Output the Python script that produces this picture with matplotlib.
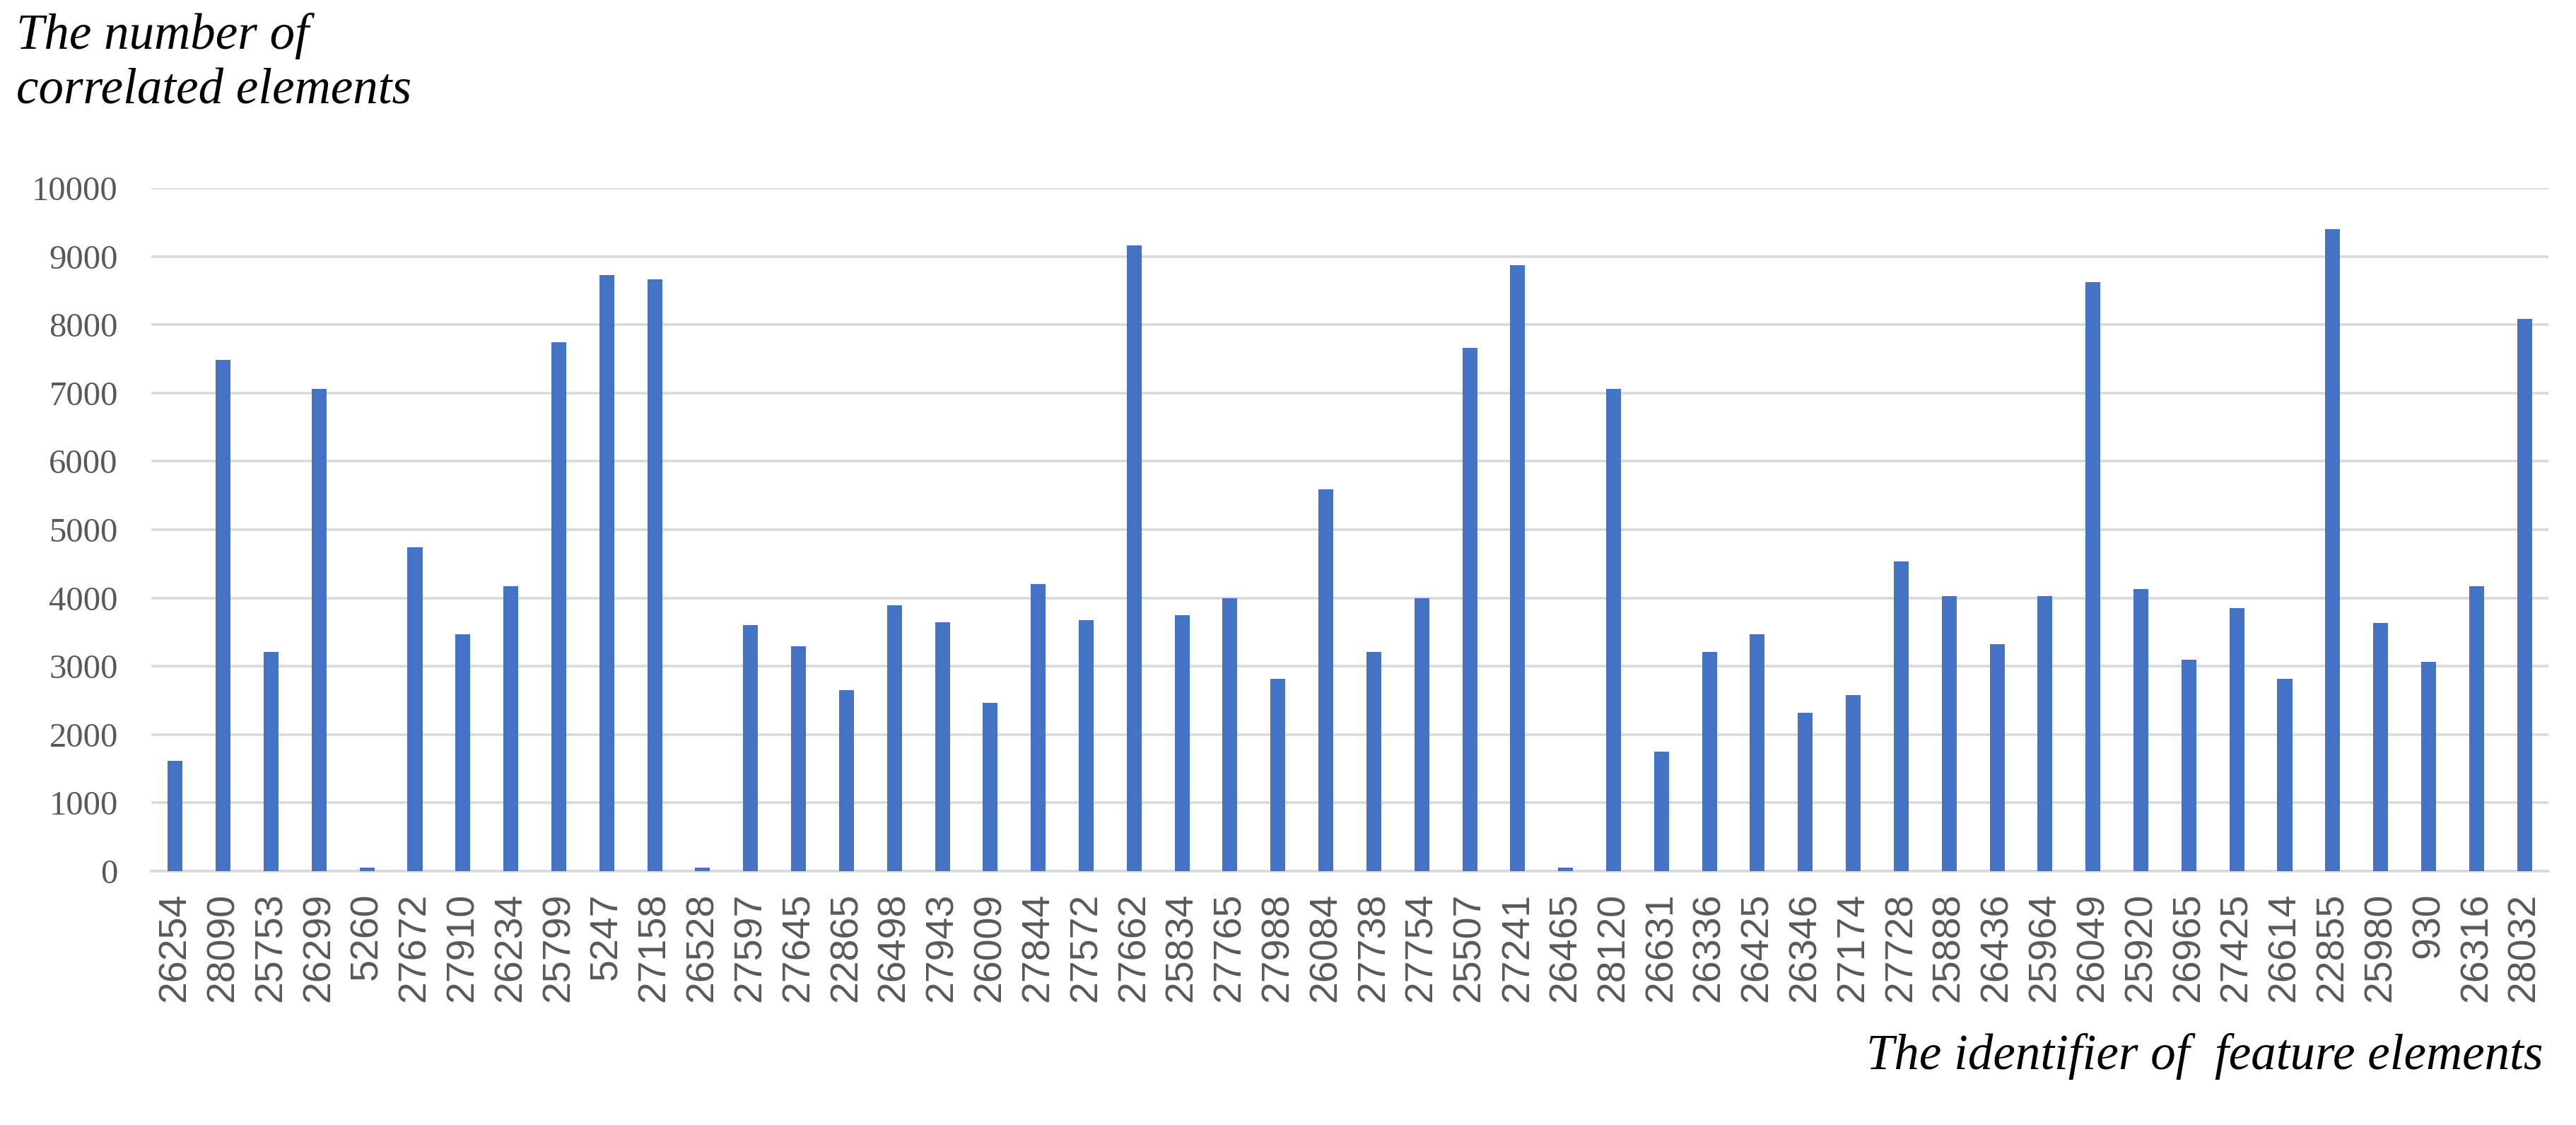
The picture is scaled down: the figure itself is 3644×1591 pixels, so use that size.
import matplotlib
import numpy as np

matplotlib.use("Agg")
import matplotlib.pyplot as plt


IDENTIFIERS = [
    "26254", "28090", "25753", "26299", "5260", "27672", "27910", "26234", "25799", "5247",
    "27158", "26528", "27597", "27645", "22865", "26498", "27943", "26009", "27844", "27572",
    "27662", "25834", "27765", "27988", "26084", "27738", "27754", "25507", "27241", "26465",
    "28120", "26631", "26336", "26425", "26346", "27174", "27728", "25888", "26436", "25964",
    "26049", "25920", "26965", "27425", "26614", "22855", "25980", "930", "26316", "28032",
]

CORRELATED_COUNTS = [
    1620, 7480, 3210, 7060, 50, 4740, 3470, 4170, 7740, 8730,
    8660, 50, 3600, 3290, 2645, 3890, 3640, 2460, 4200, 3675,
    9160, 3745, 4000, 2815, 5595, 3210, 4000, 7660, 8875, 50,
    7055, 1750, 3210, 3465, 2320, 2575, 4530, 4025, 3320, 4025,
    8620, 4130, 3100, 3850, 2815, 9400, 3635, 3065, 4170, 8085,
]

Y_TICKS = [0, 1000, 2000, 3000, 4000, 5000, 6000, 7000, 8000, 9000, 10000]

BAR_COLOR = "#4472C4"
GRID_COLOR = "#D9D9D9"
TICK_COLOR = "#595959"

W, H = 3644, 1591
DPI = 200

fig = plt.figure(figsize=(W / DPI, H / DPI), dpi=DPI, facecolor="white")
ax = fig.add_axes([214 / W, 1 - 1232 / H, (3605 - 214) / W, (1232 - 266) / H])

x = np.arange(len(IDENTIFIERS))
ax.bar(x, CORRELATED_COUNTS, width=0.31, color=BAR_COLOR, zorder=3)

ax.set_xlim(-0.5, len(IDENTIFIERS) - 0.5)
ax.set_ylim(0, 10000)
ax.set_yticks(Y_TICKS)
ax.set_yticklabels([str(v) for v in Y_TICKS], fontfamily="Liberation Serif",
                   fontsize=17.5, color=TICK_COLOR)
ax.set_xticks(x)
ax.set_xticklabels(IDENTIFIERS, rotation=90, fontfamily="Liberation Sans",
                   fontsize=20, color=TICK_COLOR, va="top")

ax.grid(axis="y", color=GRID_COLOR, linewidth=1.3, zorder=0)
ax.tick_params(axis="both", length=0)
ax.tick_params(axis="y", pad=17)
ax.tick_params(axis="x", pad=11)
for name, spine in ax.spines.items():
    spine.set_visible(name == "bottom")
ax.spines["bottom"].set_color(GRID_COLOR)
ax.spines["bottom"].set_linewidth(1.3)
ax.spines["bottom"].set_zorder(1)

fig.text(23 / W, 1 - 18 / H, "The number of\ncorrelated elements",
         fontfamily="Liberation Serif", fontstyle="italic", fontsize=25.5,
         color="black", ha="left", va="top", linespacing=1.25)
fig.text(3597 / W, 1 - 1512 / H, "The identifier of  feature elements",
         fontfamily="Liberation Serif", fontstyle="italic", fontsize=25.5,
         color="black", ha="right", va="baseline")

fig.savefig("out.png", dpi=DPI, facecolor="white")
plt.close(fig)
